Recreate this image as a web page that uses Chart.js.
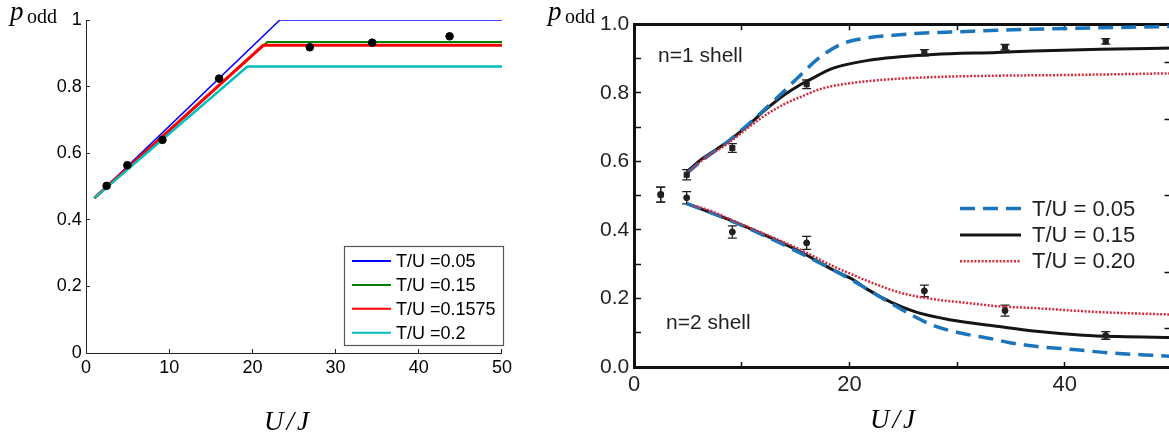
<!DOCTYPE html>
<html>
<head>
<meta charset="utf-8">
<script src="https://cdn.jsdelivr.net/npm/chart.js@4/dist/chart.umd.min.js"></script>
<style>
  html, body { margin: 0; padding: 0; background: #fff; overflow: hidden; width: 1169px; height: 437px; }
  #left { position: absolute; left: 0; top: 0; }
  #right { position: absolute; left: 540px; top: 0; }
</style>
</head>
<body>
<canvas id="left" width="520" height="437"></canvas>
<canvas id="right" width="660" height="437"></canvas>
<script>
// ---------- left panel: piecewise model curves ----------
const leftLabels = ['T/U =0.05', 'T/U =0.15', 'T/U =0.1575', 'T/U =0.2'];
const left005 = [[1, 0.465], [23.3, 1.0], [50, 1.0]];
const left015 = [[1, 0.465], [21.8, 0.934], [50, 0.934]];
const left01575 = [[1, 0.465], [21.3, 0.924], [50, 0.924]];
const left02 = [[1, 0.465], [19.4, 0.86], [50, 0.86]];
const leftDotsX = [2.48, 4.97, 9.19, 16.0, 26.9, 34.4, 43.7];
const leftDotsY = [0.502, 0.564, 0.640, 0.824, 0.918, 0.932, 0.951];

// ---------- right panel: n=1 (upper) and n=2 (lower) shells ----------
const rightLabels = ['T/U = 0.05', 'T/U = 0.15', 'T/U = 0.20'];
const upper005 = [[4.9, 0.565], [6.5, 0.607], [8.8, 0.660], [11.1, 0.722], [13.6, 0.795], [15.4, 0.850], [17.3, 0.905],
  [19.4, 0.944], [21.6, 0.960], [24.1, 0.968], [26.6, 0.974], [29, 0.977], [31.5, 0.980], [35.2, 0.984], [40.2, 0.988], [47, 0.992], [50, 0.994]];
const upper015 = [[4.9, 0.570], [6.4, 0.609], [8.6, 0.655], [10.5, 0.703], [12.3, 0.753], [14, 0.795], [15.4, 0.823], [16.3, 0.838],
  [18.5, 0.872], [21.6, 0.894], [24.7, 0.905], [27.8, 0.912], [33.7, 0.918], [37.1, 0.922], [43.3, 0.927], [50, 0.931]];
const upper020 = [[4.9, 0.565], [6.4, 0.605], [8.6, 0.650], [10.5, 0.696], [12.3, 0.737], [14.2, 0.771], [15.4, 0.787], [17.3, 0.811],
  [19.4, 0.825], [23.1, 0.838], [27.8, 0.846], [33.7, 0.850], [40.2, 0.852], [50, 0.857]];
const lower005 = [[4.9, 0.477], [7, 0.452], [9.2, 0.424], [12, 0.385], [15.4, 0.333], [18.5, 0.283], [20, 0.258], [21.6, 0.228],
  [23.1, 0.200], [25.6, 0.155], [27.8, 0.121], [30.3, 0.099], [33.1, 0.083], [34.9, 0.071], [37.1, 0.061], [41.1, 0.050], [44.2, 0.041], [48.8, 0.033], [50, 0.031]];
const lower015 = [[4.9, 0.477], [7, 0.452], [9.2, 0.425], [12, 0.387], [15.4, 0.337], [18.5, 0.283], [20.4, 0.254], [21.6, 0.228],
  [23.8, 0.190], [26.2, 0.160], [29.3, 0.138], [33.9, 0.118], [37.1, 0.105], [41.7, 0.093], [45, 0.089], [50, 0.086]];
const lower020 = [[5.5, 0.471], [7, 0.457], [9.2, 0.427], [12, 0.390], [15.4, 0.343], [18.5, 0.294], [20.4, 0.268], [21.6, 0.252],
  [24.7, 0.217], [27.8, 0.198], [30.9, 0.187], [33.9, 0.177], [37.1, 0.172], [43.3, 0.160], [50, 0.153]];
const shellX = [2.48, 4.89, 9.13, 16.03, 26.96, 34.45, 43.8];
const n1Y = [0.503, 0.561, 0.639, 0.825, 0.917, 0.933, 0.950];
const n1Err = [0.022, 0.015, 0.013, 0.0125, 0.009, 0.008, 0.008];
const n2Y = [0.503, 0.494, 0.394, 0.362, 0.222, 0.1645, 0.092];
const n2Err = [0.022, 0.018, 0.018, 0.019, 0.017, 0.016, 0.011];
const edgeTicks = [0.112, 0.275, 0.499, 0.722, 0.888]; // ticks of the cut-off right axis

const pts = a => a.map(([x, y]) => ({ x, y }));
const sans = '"Liberation Sans", Arial, Helvetica, sans-serif';
const serif = '"Liberation Serif", "Times New Roman", serif';
const ink = '#231f20';

// draws p_odd and U/J labels
function mathLabels(ctx, px, py, ux, uy) {
  ctx.fillStyle = '#000';
  ctx.textBaseline = 'alphabetic';
  ctx.textAlign = 'left';
  ctx.font = 'italic 27px ' + serif;
  ctx.fillText('p', px, py);
  ctx.font = '20px ' + serif;
  ctx.fillText('odd', px + 17, py + 3);
  ctx.font = 'italic 27px ' + serif;
  ctx.textAlign = 'center';
  ctx.letterSpacing = '3px';
  ctx.fillText('U/J', ux, uy);
  ctx.letterSpacing = '0px';
}

const leftDecor = {
  id: 'leftDecor',
  afterDraw(chart) {
    const ctx = chart.ctx;
    ctx.save();
    mathLabels(ctx, 10, 19.5, 288, 430);
    // legend box
    ctx.fillStyle = '#fff';
    ctx.fillRect(344.5, 246.5, 159, 99);
    ctx.strokeStyle = '#555';
    ctx.lineWidth = 1.2;
    ctx.strokeRect(344.5, 246.5, 159, 99);
    ctx.font = '18px ' + sans;
    ctx.textBaseline = 'middle';
    ctx.textAlign = 'left';
    chart.data.datasets.filter(d => d.label).forEach((d, i) => {
      const y = 261 + i * 23.9;
      ctx.strokeStyle = d.borderColor;
      ctx.lineWidth = 2;
      ctx.beginPath();
      ctx.moveTo(352, y);
      ctx.lineTo(391, y);
      ctx.stroke();
      ctx.fillStyle = '#000';
      ctx.fillText(d.label, 396, y + 1);
    });
    ctx.restore();
  }
};

const rightDecor = {
  id: 'rightDecor',
  beforeDatasetsDraw(chart) {
    const { ctx, scales: { x, y } } = chart;
    ctx.save();
    ctx.strokeStyle = ink;
    ctx.lineWidth = 1.3;
    [[n1Y, n1Err], [n2Y, n2Err]].forEach(([ys, es]) => {
      shellX.forEach((v, i) => {
        const px = x.getPixelForValue(v);
        const t = y.getPixelForValue(ys[i] + es[i]);
        const b = y.getPixelForValue(ys[i] - es[i]);
        ctx.beginPath();
        ctx.moveTo(px, t); ctx.lineTo(px, b);
        ctx.moveTo(px - 4.5, t); ctx.lineTo(px + 4.5, t);
        ctx.moveTo(px - 4.5, b); ctx.lineTo(px + 4.5, b);
        ctx.stroke();
      });
    });
    ctx.restore();
  },
  afterDraw(chart) {
    const ctx = chart.ctx;
    ctx.save();
    mathLabels(ctx, 8, 19.5, 354, 428);
    ctx.fillStyle = ink;
    ctx.textAlign = 'left';
    ctx.textBaseline = 'alphabetic';
    ctx.font = '21px ' + sans;
    ctx.fillText('n=1 shell', 118, 62.3);
    ctx.fillText('n=2 shell', 126, 329.3);
    // legend
    ctx.font = '22px ' + sans;
    ctx.textBaseline = 'middle';
    chart.data.datasets.filter(d => d.label).forEach((d, i) => {
      const yy = 208.5 + i * 26.4;
      ctx.strokeStyle = d.borderColor;
      ctx.lineWidth = d.borderWidth;
      ctx.setLineDash(d.borderDash || []);
      ctx.beginPath();
      ctx.moveTo(420, yy);
      ctx.lineTo(481, yy);
      ctx.stroke();
      ctx.setLineDash([]);
      ctx.fillStyle = ink;
      ctx.fillText(d.label, 492, yy + 1);
    });
    ctx.restore();
  }
};

const leftLine = (label, data, color, width, order) => ({
  label, data: pts(data), showLine: true, borderColor: color, backgroundColor: color,
  borderWidth: width, pointRadius: 0, tension: 0, order
});

new Chart(document.getElementById('left'), {
  type: 'scatter',
  data: {
    datasets: [
      leftLine(leftLabels[0], left005, '#0000ff', 1.5, 4),
      leftLine(leftLabels[1], left015, '#008000', 2.2, 3),
      leftLine(leftLabels[2], left01575, '#ff0000', 3, 2),
      leftLine(leftLabels[3], left02, '#00bfbf', 2.5, 1),
      { data: leftDotsX.map((x, i) => ({ x, y: leftDotsY[i] })), pointRadius: 3.8,
        backgroundColor: '#000', borderColor: '#000', order: 0 }
    ]
  },
  options: {
    responsive: false, animation: false, devicePixelRatio: 1,
    layout: { padding: { left: 0, right: 11, top: 20, bottom: 0 } },
    plugins: { legend: { display: false }, tooltip: { enabled: false } },
    scales: {
      x: {
        type: 'linear', min: 0, max: 50,
        afterFit: s => { s.height = 84; },
        border: { color: '#222', width: 1 },
        grid: { drawOnChartArea: false, tickLength: -4, tickColor: '#222' },
        ticks: { stepSize: 10, padding: 8, color: '#000', font: { family: sans, size: 18 } }
      },
      y: {
        min: 0, max: 1,
        afterFit: s => { s.width = 86; },
        border: { color: '#222', width: 1 },
        grid: { drawOnChartArea: false, tickLength: -4, tickColor: '#222' },
        ticks: { stepSize: 0.2, padding: 8.3, color: '#000', font: { family: sans, size: 18 },
          callback: v => String(+v.toFixed(1)) }
      }
    }
  },
  plugins: [leftDecor]
});

const rightLine = (label, data, color, width, dash, order) => ({
  label, data: pts(data), showLine: true, borderColor: color, backgroundColor: color,
  borderWidth: width, borderDash: dash, pointRadius: 0, tension: 0.4,
  cubicInterpolationMode: 'monotone', order
});
const blue = '#1b75bc', black = '#151515', red = '#d42a3c';
const axisStyle = { color: '#111', width: 3 };

new Chart(document.getElementById('right'), {
  type: 'scatter',
  data: {
    datasets: [
      rightLine(rightLabels[0], upper005, blue, 3.5, [15, 8], 2),
      rightLine(rightLabels[1], upper015, black, 3, [], 3),
      rightLine(rightLabels[2], upper020, red, 2.5, [2, 1.6], 1),
      rightLine('', lower005, blue, 3.5, [15, 8], 2),
      rightLine('', lower015, black, 3, [], 3),
      rightLine('', lower020, red, 2.5, [2, 1.6], 1),
      { data: shellX.map((x, i) => ({ x, y: n1Y[i] })), pointStyle: 'rect', pointRadius: 3.6,
        backgroundColor: ink, borderColor: ink, order: 0 },
      { data: shellX.map((x, i) => ({ x, y: n2Y[i] })), pointStyle: 'circle', pointRadius: 3,
        backgroundColor: ink, borderColor: ink, order: 0 }
    ]
  },
  options: {
    responsive: false, animation: false, devicePixelRatio: 1,
    layout: { padding: { left: 0, right: 27.5, top: 20.5, bottom: 0 } },
    plugins: { legend: { display: false }, tooltip: { enabled: false } },
    scales: {
      x: {
        type: 'linear', min: 0, max: 50,
        afterFit: s => { s.height = 70; },
        border: axisStyle,
        grid: { drawOnChartArea: false, tickLength: -5, tickColor: '#111', tickWidth: 1.5 },
        ticks: { stepSize: 10, padding: 9.5, color: ink, autoSkip: false, font: { family: sans, size: 22 },
          callback: v => (v % 20 === 0 && v < 50 ? String(v) : '') }
      },
      x2: {
        type: 'linear', position: 'top', min: 0, max: 50,
        afterFit: s => { s.height = 0; },
        border: axisStyle,
        grid: { drawOnChartArea: false, tickLength: -6, tickColor: '#111', tickWidth: 1.5 },
        ticks: { stepSize: 10, display: false }
      },
      y: {
        min: 0, max: 1,
        afterFit: s => { s.width = 94; },
        border: axisStyle,
        grid: { drawOnChartArea: false, tickLength: -7, tickColor: '#111', tickWidth: 1.5 },
        ticks: { stepSize: 0.1, padding: 11.7, color: ink, autoSkip: false, font: { family: sans, size: 21 },
          callback: v => (Math.round(v * 10) % 2 === 0 ? v.toFixed(1) : '') }
      },
      y2: {
        position: 'right', min: 0, max: 1,
        afterFit: s => { s.width = 0; },
        afterBuildTicks: s => { s.ticks = edgeTicks.map(value => ({ value })); },
        border: axisStyle,
        grid: { drawOnChartArea: false, tickLength: -8, tickColor: '#111', tickWidth: 1.5 },
        ticks: { display: false }
      }
    }
  },
  plugins: [rightDecor]
});
</script>
</body>
</html>
